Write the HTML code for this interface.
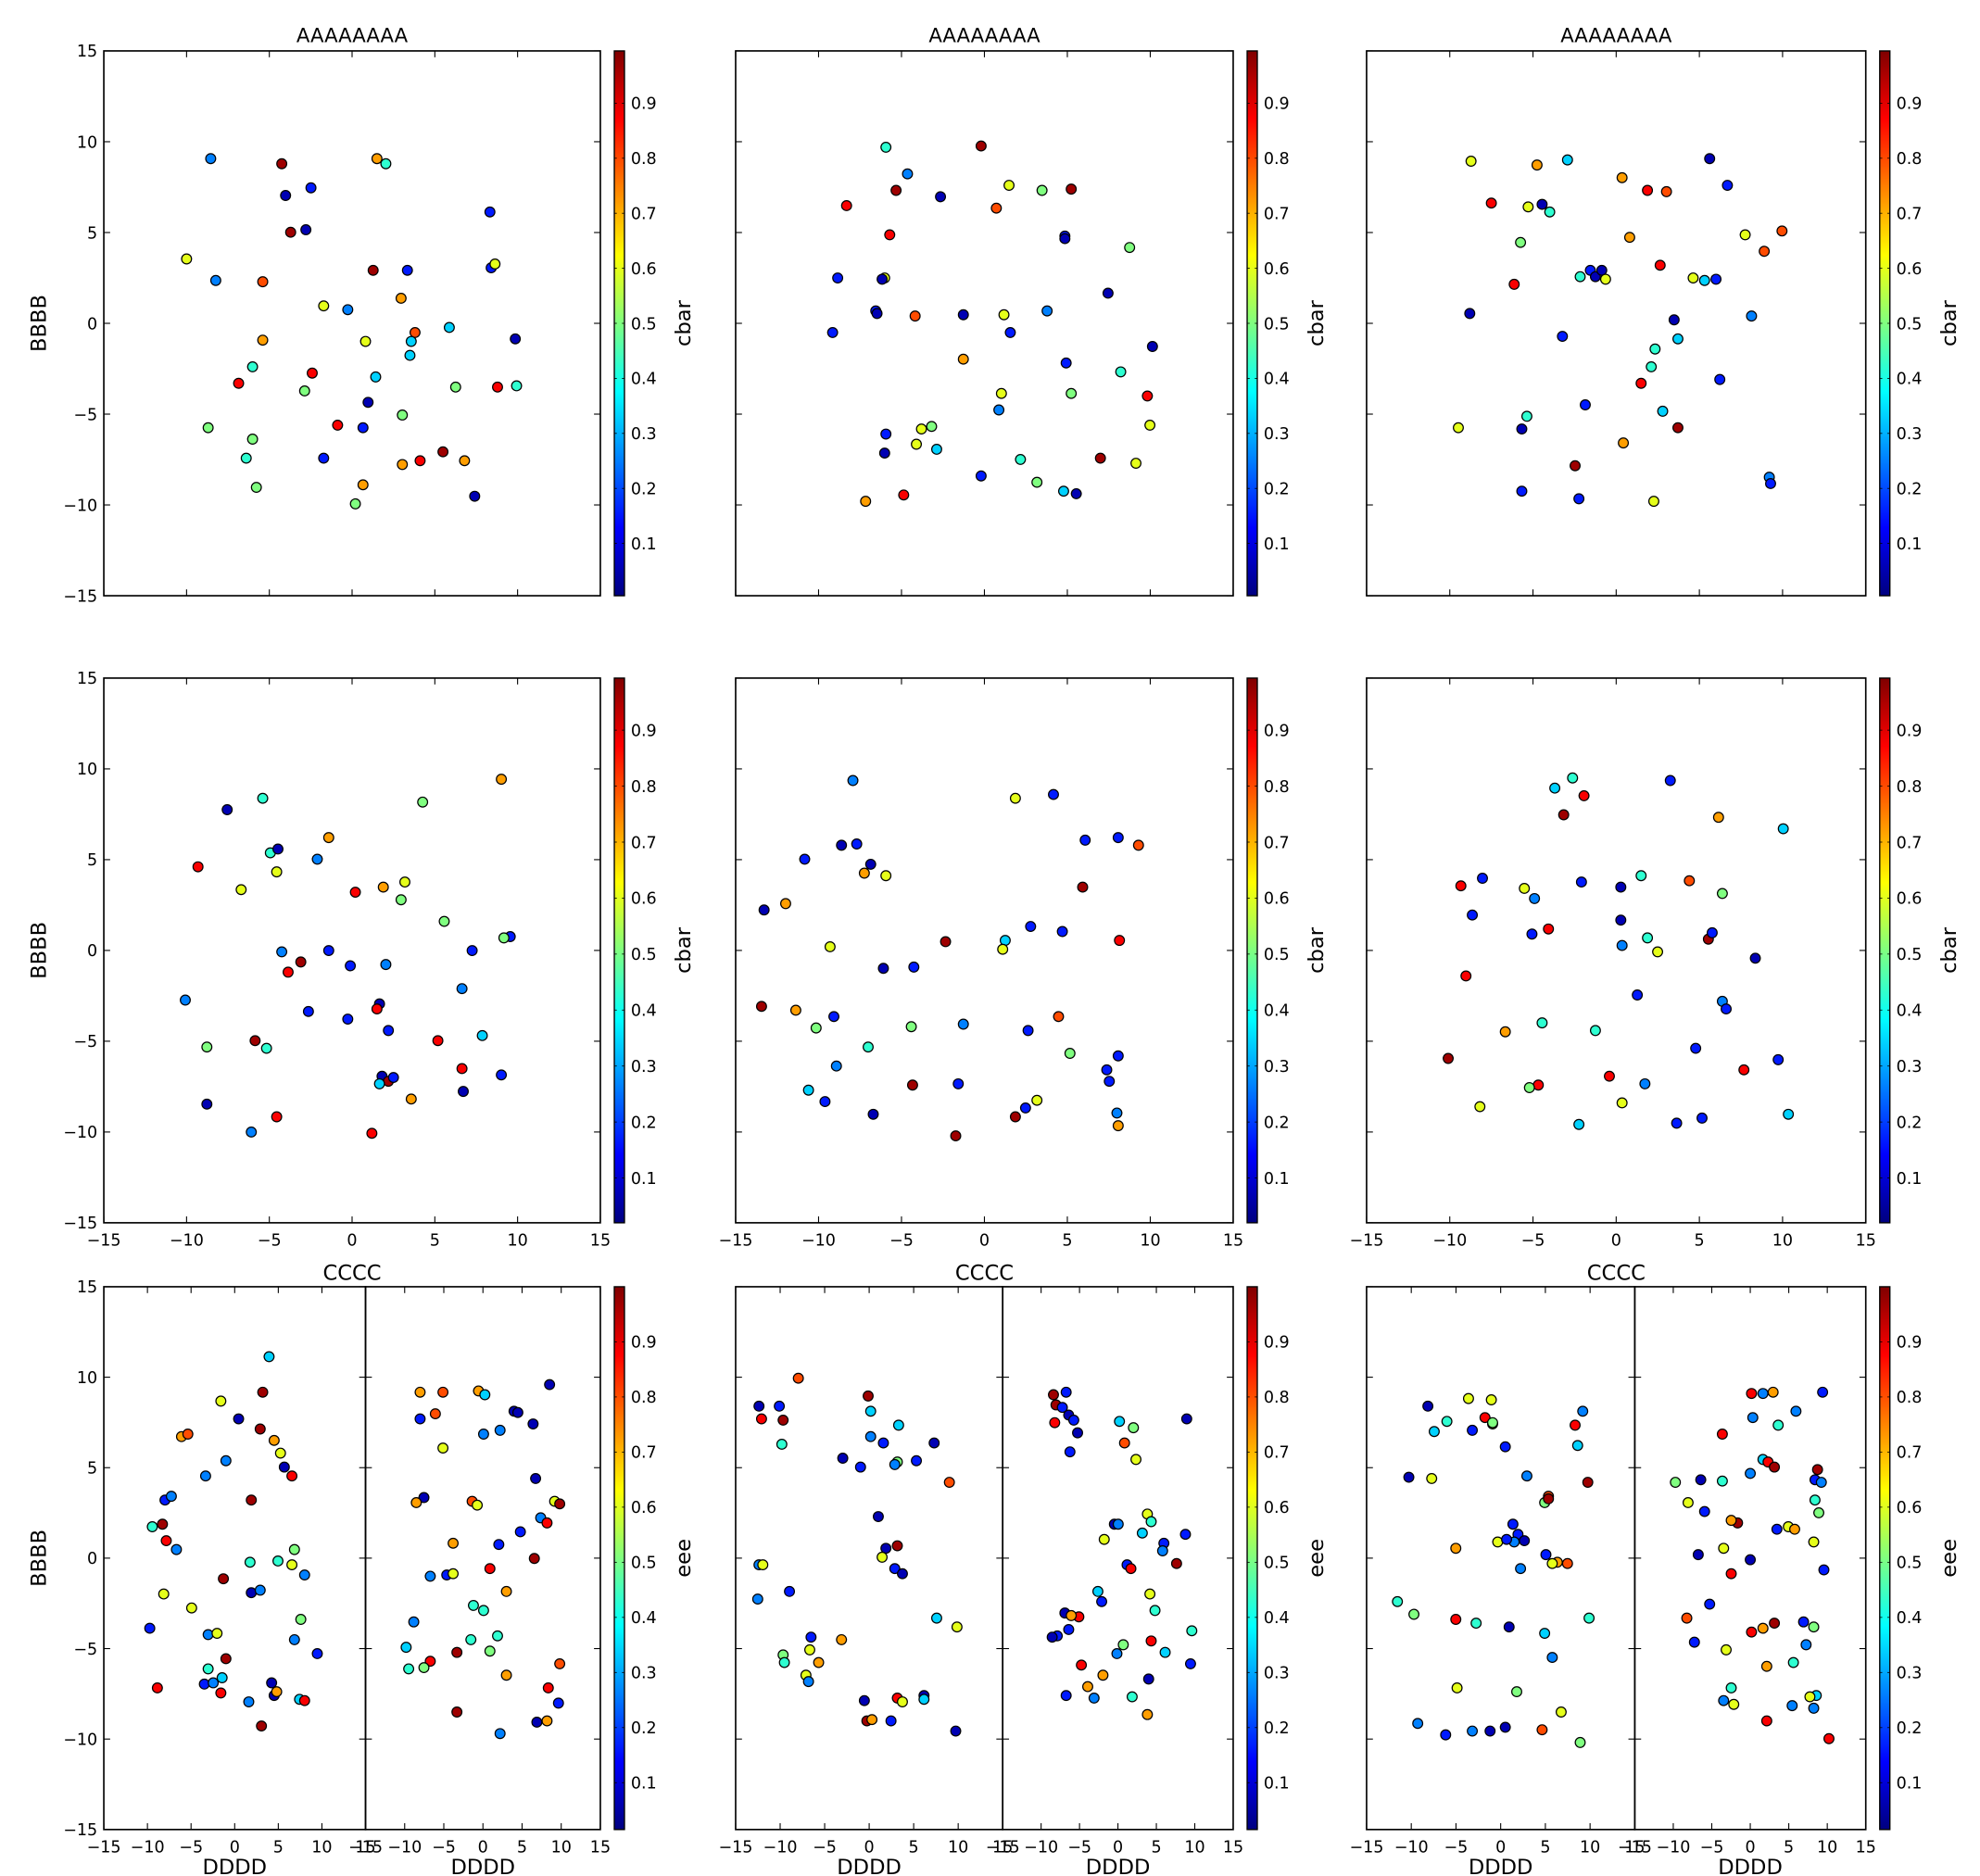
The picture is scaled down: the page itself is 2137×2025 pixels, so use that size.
<!DOCTYPE html>
<html><head><meta charset="utf-8"><style>
html,body{margin:0;padding:0;background:#fff;}
svg{display:block;font-family:"DejaVu Sans","Liberation Sans",sans-serif;}
</style></head><body>
<svg id="s" xmlns="http://www.w3.org/2000/svg" width="2137" height="2025" viewBox="0 0 1560 1478.2">
<defs id="d"></defs>
<rect x="0" y="0" width="1560" height="1480" fill="#fff"/>
</svg>
<script>
const S=document.getElementById('s'),D=document.getElementById('d'),NS='http://www.w3.org/2000/svg';
function el(t,a,txt,p){const e=document.createElementNS(NS,t);for(const k in a)e.setAttribute(k,a[k]);if(txt!==undefined&&txt!==null)e.textContent=txt;(p||S).appendChild(e);return e;}
function cl(v){return Math.max(0,Math.min(1,v));}
function jet(v){const r=cl(1.5-Math.abs(4*v-3)),g=cl(1.5-Math.abs(4*v-2)),b=cl(1.5-Math.abs(4*v-1));return 'rgb('+Math.round(r*255)+','+Math.round(g*255)+','+Math.round(b*255)+')';}
const lg=el('linearGradient',{id:'jet',x1:0,y1:1,x2:0,y2:0},null,D);
for(let i=0;i<=40;i++){el('stop',{offset:i/40,'stop-color':jet(i/40)},null,lg);}
const C={a:0.05,b:0.15,c:0.25,d:0.33,e:0.42,f:0.5,g:0.6,h:0.72,i:0.8,j:0.88,k:0.97};
const cols=[[81.8,473],[579.6,971.6],[1076.7,1470]],rows=[[40.1,469.4],[534.3,963.5],[1013.9,1441.6]],divs=[288,790,1288];
const vr=[[0.005,0.995],[0.02,0.993],[0.015,1.0]];
const TF=12.8,LF=15.5;
function lab(v){return v<0?'\u2212'+(-v):''+v;}
function axes(x0,x1,y0,y1,xl,yl){
  for(let v=-15;v<=15;v+=5){
    const x=x0+(v+15)/30*(x1-x0),y=y1-(v+15)/30*(y1-y0);
    el('line',{x1:x,y1:y1,x2:x,y2:y1-5,stroke:'#000','stroke-width':0.8});
    el('line',{x1:x,y1:y0,x2:x,y2:y0+5,stroke:'#000','stroke-width':0.8});
    el('line',{x1:x0,y1:y,x2:x0+5,y2:y,stroke:'#000','stroke-width':0.8});
    el('line',{x1:x1,y1:y,x2:x1-5,y2:y,stroke:'#000','stroke-width':0.8});
    if(xl)el('text',{x:x,y:y1+18,'font-size':TF,'text-anchor':'middle'},lab(v));
    if(yl)el('text',{x:x0-5,y:y+4.6,'font-size':TF,'text-anchor':'end'},lab(v));
  }
  el('rect',{x:x0,y:y0,width:x1-x0,height:y1-y0,fill:'none',stroke:'#000','stroke-width':1.2});
}
const P=[
`166,125,c 222,129,k 225,154,a 245,148,b 229,183,k 241,181,a 147,204,g 170,221,c 207,222,i 294,213,k 321,213,b 386,167,b 387,211,b 390,208,g 297,125,h 304,129,e 255,241,g 274,244,c 316,235,h 207,268,h 288,269,g 327,262,i 354,258,d 406,267,a 324,269,d 323,280,d 199,289,e 188,302,j 246,294,j 240,308,f 296,297,d 290,317,a 359,305,f 392,305,j 407,304,e 164,337,f 199,346,f 194,361,e 202,384,f 255,361,b 266,335,j 286,337,b 317,327,f 349,356,k 317,366,h 331,363,j 366,363,h 286,382,h 374,391,a 280,397,f`,
`698,116,e 773,115,k 715,137,c 741,155,a 667,162,j 706,150,k 795,146,g 785,164,i 821,150,f 844,149,k 701,185,j 839,186,b 839,188,a 890,195,f 660,219,b 697,219,g 695,220,a 690,245,b 691,247,a 721,249,i 759,248,a 791,248,g 825,245,c 873,231,a 908,273,a 656,262,b 796,262,b 759,283,h 840,286,b 883,293,e 789,310,g 787,323,c 844,310,f 904,312,j 906,335,g 698,342,b 697,357,a 734,336,f 726,338,g 722,350,g 738,354,d 804,362,e 867,361,k 895,365,g 773,375,b 817,380,f 838,387,d 848,389,a 682,395,h 712,390,j`,
`1159,127,g 1211,130,h 1235,126,d 1278,140,h 1298,150,j 1313,151,i 1347,125,a 1361,146,b 1175,160,j 1204,163,g 1215,161,a 1221,167,e 1375,185,g 1404,182,i 1198,191,f 1284,187,h 1158,247,a 1193,224,j 1245,218,e 1253,213,b 1257,218,a 1262,213,a 1265,220,g 1308,209,j 1334,219,g 1343,221,d 1352,220,b 1390,198,i 1380,249,c 1319,252,a 1231,265,b 1304,275,e 1322,267,d 1301,289,e 1293,302,j 1355,299,b 1149,337,g 1203,328,e 1199,338,a 1249,319,b 1310,324,d 1322,337,k 1279,349,h 1241,367,k 1199,387,b 1244,393,b 1303,395,g 1394,376,c 1395,381,b`,
`179,638,a 207,629,e 156,683,j 190,701,g 213,672,e 219,669,a 218,687,g 259,660,h 250,677,c 333,632,f 395,614,h 302,699,h 319,695,g 316,709,f 280,703,j 350,726,f 222,750,c 259,749,b 276,761,b 237,758,k 227,766,j 402,738,b 397,739,f 372,749,b 304,760,c 146,788,c 299,791,a 297,795,j 243,797,b 274,803,b 306,812,b 163,825,f 201,820,k 210,826,e 345,820,j 380,816,d 364,779,c 301,848,a 306,852,k 310,849,b 299,854,d 364,842,j 395,847,b 365,860,a 324,866,h 218,880,j 163,870,a 198,892,c 293,893,j`,
`672,615,c 830,626,b 800,629,g 634,677,b 663,666,a 675,665,b 686,681,a 681,688,h 698,690,g 855,662,b 881,660,b 897,666,i 602,717,a 619,712,h 654,746,g 745,742,k 853,699,k 812,730,b 837,734,b 792,741,d 790,748,g 696,763,a 720,762,b 882,741,j 600,793,k 627,796,h 643,810,f 657,801,b 718,809,f 759,807,c 684,825,e 810,812,b 834,801,i 843,830,f 659,840,c 881,832,b 637,859,d 650,868,b 719,855,k 755,854,b 872,843,b 874,852,b 688,878,a 800,880,k 808,873,b 817,867,g 880,877,c 881,887,h 753,895,k`,
`1239,613,e 1225,621,d 1248,627,j 1232,642,k 1316,615,b 1354,644,h 1405,653,d 1168,692,b 1201,700,g 1246,695,b 1277,699,a 1293,690,e 1331,694,i 1357,704,f 1151,698,j 1160,721,b 1209,708,c 1220,732,j 1207,736,b 1277,725,a 1278,745,c 1298,739,e 1306,750,g 1346,740,k 1349,735,b 1383,755,a 1155,769,j 1357,789,c 1360,795,b 1290,784,b 1186,813,h 1215,806,e 1257,812,e 1336,826,b 1374,843,j 1401,835,b 1141,834,k 1268,848,j 1212,855,j 1205,857,f 1296,854,c 1166,872,g 1278,869,g 1244,886,d 1321,885,b 1341,881,b 1409,878,d`,
`212,1069,d 207,1097,k 174,1104,g 188,1118,a 205,1126,k 143,1132,h 148,1130,i 178,1151,c 216,1135,h 221,1145,g 224,1156,a 230,1163,j 162,1163,c 198,1182,k 130,1182,b 135,1179,c 128,1201,k 120,1203,e 131,1214,j 139,1221,c 232,1221,f 197,1231,e 219,1230,e 230,1233,g 240,1241,c 176,1244,k 198,1255,a 205,1253,c 129,1256,g 151,1267,g 118,1283,b 164,1288,c 171,1287,g 237,1276,f 232,1292,c 250,1303,b 178,1307,k 164,1315,e 175,1322,d 161,1327,b 168,1326,c 174,1334,j 214,1326,a 216,1336,a 218,1333,h 236,1339,d 240,1340,j 196,1341,c 124,1330,j 206,1360,k`,
`331,1097,h 349,1097,i 377,1096,h 382,1099,d 433,1091,a 331,1118,b 343,1114,i 405,1112,a 408,1113,a 420,1122,a 381,1130,c 394,1127,c 349,1141,g 334,1180,a 328,1184,h 372,1183,i 376,1186,g 422,1165,a 437,1183,g 441,1185,k 426,1196,c 431,1200,j 410,1207,b 357,1216,h 393,1217,b 421,1228,k 339,1242,c 352,1241,b 357,1240,g 386,1236,j 399,1254,h 373,1265,e 381,1269,e 326,1278,c 392,1289,e 371,1292,e 386,1301,f 320,1298,d 339,1309,j 360,1302,k 322,1315,e 334,1314,f 441,1311,i 399,1320,h 432,1330,j 440,1342,b 360,1349,k 431,1356,h 423,1357,a 394,1366,c`,
`598,1108,a 614,1108,b 600,1118,j 617,1119,k 684,1100,k 686,1112,d 629,1086,i 686,1132,c 708,1123,d 696,1137,b 736,1137,a 707,1152,f 705,1154,c 722,1151,b 616,1138,e 664,1149,a 678,1156,b 748,1168,i 692,1195,a 698,1220,a 707,1218,k 695,1227,g 705,1236,b 711,1240,a 622,1254,b 598,1233,c 601,1233,g 597,1260,c 639,1290,b 663,1292,h 738,1275,d 754,1282,g 638,1300,g 617,1304,f 618,1310,e 645,1310,h 635,1320,g 637,1325,c 681,1340,a 707,1338,j 728,1336,a 711,1341,g 683,1356,k 702,1356,b 728,1339,d 753,1364,a 687,1355,h`,
`830,1099,k 840,1097,b 832,1107,k 837,1109,b 842,1115,a 849,1129,a 831,1121,j 846,1119,b 882,1120,d 886,1137,i 893,1125,f 935,1118,a 895,1150,g 904,1193,g 907,1199,e 843,1144,b 878,1201,a 870,1213,g 881,1201,c 900,1208,d 888,1233,b 891,1236,j 917,1216,b 906,1256,g 910,1269,e 934,1209,b 916,1222,c 927,1232,k 865,1254,d 868,1262,b 839,1271,a 850,1274,j 842,1284,b 833,1289,b 829,1290,a 844,1273,h 885,1296,f 880,1303,c 907,1293,j 918,1302,d 939,1285,e 938,1311,b 852,1312,j 905,1323,a 869,1320,h 862,1338,c 857,1329,h 904,1351,h 840,1336,b 892,1337,e`,
`1125,1108,a 1157,1102,g 1175,1103,g 1130,1128,d 1140,1120,e 1160,1127,b 1176,1122,g 1186,1140,b 1170,1117,j 1176,1121,f 1241,1123,j 1247,1112,c 1243,1139,d 1203,1163,c 1110,1164,a 1128,1165,g 1217,1184,f 1220,1179,i 1220,1181,k 1192,1201,b 1196,1209,b 1251,1168,k 1180,1215,g 1193,1215,c 1187,1213,b 1201,1214,a 1147,1220,h 1218,1225,b 1227,1231,h 1223,1232,g 1235,1232,i 1198,1236,c 1101,1262,e 1114,1272,f 1147,1276,j 1163,1279,e 1189,1282,a 1217,1287,d 1252,1275,e 1223,1306,c 1195,1333,f 1148,1330,g 1230,1349,g 1117,1358,c 1139,1367,b 1160,1364,c 1174,1364,a 1186,1361,a 1215,1363,i 1245,1373,f`,
`1380,1098,j 1389,1098,c 1397,1097,h 1436,1097,b 1381,1117,c 1415,1112,c 1401,1123,e 1357,1130,j 1389,1150,d 1393,1152,j 1398,1156,k 1379,1161,c 1432,1158,k 1430,1166,b 1435,1168,c 1320,1168,f 1340,1166,a 1357,1167,e 1330,1184,g 1343,1191,b 1369,1200,k 1430,1182,e 1433,1192,f 1364,1198,h 1409,1203,g 1414,1205,h 1429,1215,g 1400,1205,b 1358,1220,g 1338,1225,a 1379,1229,a 1437,1237,b 1364,1240,j 1347,1264,b 1329,1275,i 1335,1294,b 1380,1286,j 1389,1283,h 1398,1279,k 1421,1278,b 1423,1296,c 1429,1282,f 1360,1300,g 1413,1310,e 1392,1313,h 1364,1330,e 1358,1340,c 1366,1343,g 1412,1344,c 1431,1336,d 1429,1346,c 1392,1356,j 1441,1370,j 1426,1337,g`];
for(let r=0;r<3;r++)for(let c=0;c<3;c++){
  const [x0,x1]=cols[c],[y0,y1]=rows[r];
  if(r<2){axes(x0,x1,y0,y1,r==1,c==0);}
  else{axes(x0,divs[c],y0,y1,true,c==0);axes(divs[c],x1,y0,y1,true,false);
    el('text',{x:(x0+divs[c])/2,y:y1+35,'font-size':LF+1,'text-anchor':'middle'},'DDDD');
    el('text',{x:(divs[c]+x1)/2,y:y1+35,'font-size':LF+1,'text-anchor':'middle'},'DDDD');}
  if(r==0)el('text',{x:(x0+x1)/2,y:y0-7,'font-size':LF,'text-anchor':'middle'},'AAAAAAAA');
  if(r==1)el('text',{x:(x0+x1)/2,y:y1+45,'font-size':LF+1,'text-anchor':'middle'},'CCCC');
  if(c==0)el('text',{x:0,y:0,'font-size':LF+1,'text-anchor':'middle',transform:'translate(36,'+((y0+y1)/2)+') rotate(-90)'},'BBBB');
  const cx=x1+11,cw=8;
  el('rect',{x:cx,y:y0,width:cw,height:y1-y0,fill:'url(#jet)',stroke:'#000','stroke-width':1});
  const [vmn,vmx]=vr[r];
  for(let k=1;k<=9;k++){const v=k/10,y=y1-(v-vmn)/(vmx-vmn)*(y1-y0);
    el('line',{x1:cx,y1:y,x2:cx+2,y2:y,stroke:'#000','stroke-width':0.6});
    el('line',{x1:cx+cw,y1:y,x2:cx+cw-2,y2:y,stroke:'#000','stroke-width':0.6});
    el('text',{x:cx+cw+5,y:y+4.6,'font-size':TF},'0.'+k);}
  el('text',{x:0,y:0,'font-size':LF+1,'text-anchor':'middle',transform:'translate('+(cx+cw+52)+','+((y0+y1)/2)+') rotate(-90)'},r==2?'eee':'cbar');
}
for(const s of P){s.trim().split(/\s+/).forEach(t=>{const [x,y,k]=t.split(',');el('circle',{cx:x,cy:y,r:3.9,fill:jet(C[k]),stroke:'#000','stroke-width':0.9});});}
</script>
</body></html>
